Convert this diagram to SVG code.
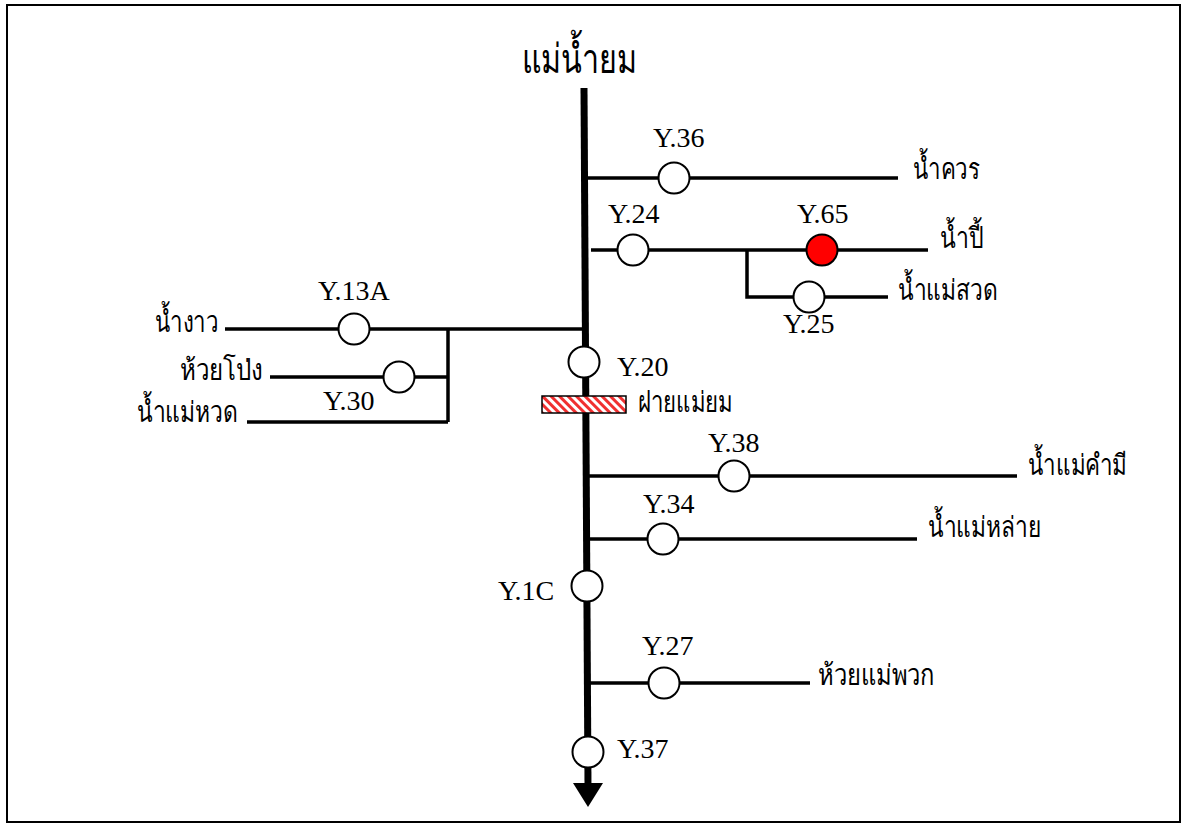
<svg xmlns="http://www.w3.org/2000/svg" width="1182" height="825" viewBox="0 0 1182 825">
<style>
.ln{stroke:#000;stroke-width:3.5;fill:none}
.st{fill:#fff;stroke:#000;stroke-width:2}
.lb{font-family:"Liberation Serif","Times New Roman",serif;font-size:28px;fill:#000}
.th{font-family:"Liberation Serif",serif;font-size:29px;font-weight:300;fill:#000}
</style>
<defs>
<pattern id="hatch" width="6" height="6" patternUnits="userSpaceOnUse" patternTransform="rotate(-45)">
<rect width="6" height="6" fill="#fff"/>
<rect width="3" height="6" fill="#f03030"/>
</pattern>
</defs>
<rect x="7" y="5" width="1173" height="817" fill="#fff" stroke="#000" stroke-width="2"/>
<g id="connectors">
<path d="M584,88 L588,786" stroke="#000" stroke-width="7" fill="none"/>
<polygon points="573,783 603,783 588,807" fill="#000"/>
<path class="ln" d="M586,178 H898"/>
<path class="ln" d="M591,250 H928"/>
<path class="ln" d="M747,250 V297 H888"/>
<path class="ln" d="M225,329 H584"/>
<path class="ln" d="M448,329 V422"/>
<path class="ln" d="M270,377 H448"/>
<path class="ln" d="M247,422 H448"/>
<path class="ln" d="M586,476 H1017"/>
<path class="ln" d="M586,539 H917"/>
<path class="ln" d="M587,683 H810"/>
</g>
<g id="title"><text class="th" x="522" y="73" style="font-size:41px" textLength="115" lengthAdjust="spacingAndGlyphs">แม่น้ำยม</text></g>
<g id="Y36"><circle class="st" cx="674" cy="178" r="15.5"/><text class="lb" x="653" y="147">Y.36</text></g>
<g id="namkuan"><text class="th" x="913" y="179" textLength="67" lengthAdjust="spacingAndGlyphs">น้ำควร</text></g>
<g id="Y24"><circle class="st" cx="633" cy="250" r="15.5"/><text class="lb" x="608" y="223">Y.24</text></g>
<g id="Y65"><circle cx="822" cy="250" r="15.5" fill="#ff0000" stroke="#000" stroke-width="2"/><text class="lb" x="797" y="223">Y.65</text></g>
<g id="nampi"><text class="th" x="940" y="248" textLength="43" lengthAdjust="spacingAndGlyphs">น้ำปี้</text></g>
<g id="Y25"><circle class="st" cx="809" cy="297" r="15.5"/><text class="lb" x="783" y="333">Y.25</text></g>
<g id="nammaesuat"><text class="th" x="898" y="300" textLength="100" lengthAdjust="spacingAndGlyphs">น้ำแม่สวด</text></g>
<g id="Y13A"><circle class="st" cx="354" cy="329" r="15.5"/><text class="lb" x="318" y="300">Y.13A</text></g>
<g id="namngao"><text class="th" x="155" y="332" textLength="63" lengthAdjust="spacingAndGlyphs">น้ำงาว</text></g>
<g id="Y30"><circle class="st" cx="399" cy="377" r="15.5"/><text class="lb" x="323" y="410">Y.30</text></g>
<g id="huaipong"><text class="th" x="180" y="380" textLength="83" lengthAdjust="spacingAndGlyphs">ห้วยโป่ง</text></g>
<g id="nammaehuat"><text class="th" x="137" y="422" textLength="101" lengthAdjust="spacingAndGlyphs">น้ำแม่หวด</text></g>
<g id="Y20"><circle class="st" cx="584" cy="362" r="15.5"/><text class="lb" x="617" y="376">Y.20</text></g>
<g id="weir"><rect x="542" y="396" width="84" height="17" fill="url(#hatch)" stroke="#000" stroke-width="1.5"/><text class="th" x="638" y="412" textLength="95" lengthAdjust="spacingAndGlyphs">ฝายแม่ยม</text></g>
<g id="Y38"><circle class="st" cx="734" cy="476" r="15.5"/><text class="lb" x="708" y="452">Y.38</text></g>
<g id="nammaekhammi"><text class="th" x="1028" y="475" textLength="99" lengthAdjust="spacingAndGlyphs">น้ำแม่คำมี</text></g>
<g id="Y34"><circle class="st" cx="663" cy="539" r="15.5"/><text class="lb" x="643" y="513">Y.34</text></g>
<g id="nammaelai"><text class="th" x="928" y="537" textLength="113" lengthAdjust="spacingAndGlyphs">น้ำแม่หล่าย</text></g>
<g id="Y1C"><circle class="st" cx="587" cy="586" r="15.5"/><text class="lb" x="498" y="600">Y.1C</text></g>
<g id="Y27"><circle class="st" cx="664" cy="683" r="15.5"/><text class="lb" x="642" y="655">Y.27</text></g>
<g id="huaimaephuak"><text class="th" x="818" y="685" textLength="117" lengthAdjust="spacingAndGlyphs">ห้วยแม่พวก</text></g>
<g id="Y37"><circle class="st" cx="588" cy="752" r="15.5"/><text class="lb" x="617" y="758">Y.37</text></g>
</svg>
